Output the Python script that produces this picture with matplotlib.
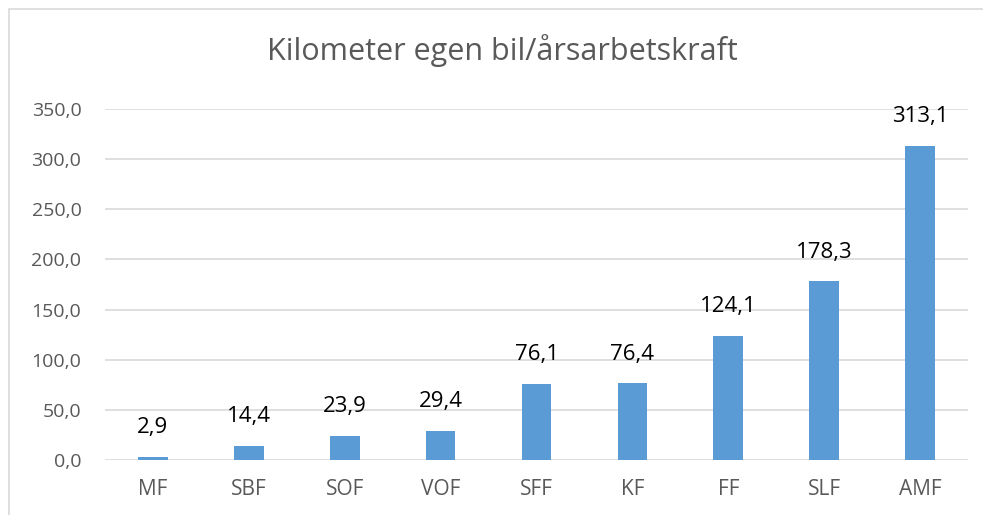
import matplotlib
matplotlib.use("Agg")
import matplotlib.pyplot as plt
from matplotlib.patches import Rectangle

categories = ["MF", "SBF", "SOF", "VOF", "SFF", "KF", "FF", "SLF", "AMF"]
values = [2.9, 14.4, 23.9, 29.4, 76.1, 76.4, 124.1, 178.3, 313.1]
yticks = [0, 50, 100, 150, 200, 250, 300, 350]
title = "Kilometer egen bil/årsarbetskraft"

plt.rcParams['font.family'] = ['Open Sans', 'DejaVu Sans']

W, H = 983, 515
fig = plt.figure(figsize=(W/100, H/100), dpi=100)
fig.patches.append(Rectangle((8.5/W, -0.1), 1.2, (H-9.5)/H + 0.1, transform=fig.transFigure,
                             fill=False, edgecolor="#d9d9d9", linewidth=1.2))

ax = fig.add_axes([105/W, (H-460)/H, (968-105)/W, (460-109)/H])
x = range(len(categories))
ax.bar(x, values, width=0.31, color="#5b9bd5", zorder=3)
for xi, v in zip(x, values):
    ax.annotate(f"{v:.1f}".replace(".", ","), (xi, v), xytext=(0, 17),
                textcoords="offset points", ha="center", va="baseline",
                fontsize=16, color="#000000")

ax.set_xlim(-0.5, len(categories) - 0.5)
ax.set_ylim(0, 350)
ax.set_yticks(yticks)
ax.set_yticklabels([f"{t:.1f}".replace(".", ",") for t in yticks])
ax.set_xticks(list(x))
ax.set_xticklabels(categories)
ax.tick_params(axis="both", length=0, colors="#595959")
ax.tick_params(axis="y", pad=17, labelsize=14)
ax.tick_params(axis="x", pad=14, labelsize=15)
ax.grid(axis="y", color="#d9d9d9", linewidth=1.2, zorder=0)
for s in ax.spines.values():
    s.set_visible(False)

fig.text(502/W, 1 - 51/H, title, ha="center", va="center", fontsize=22, color="#595959")

fig.savefig("out.png", dpi=100)
